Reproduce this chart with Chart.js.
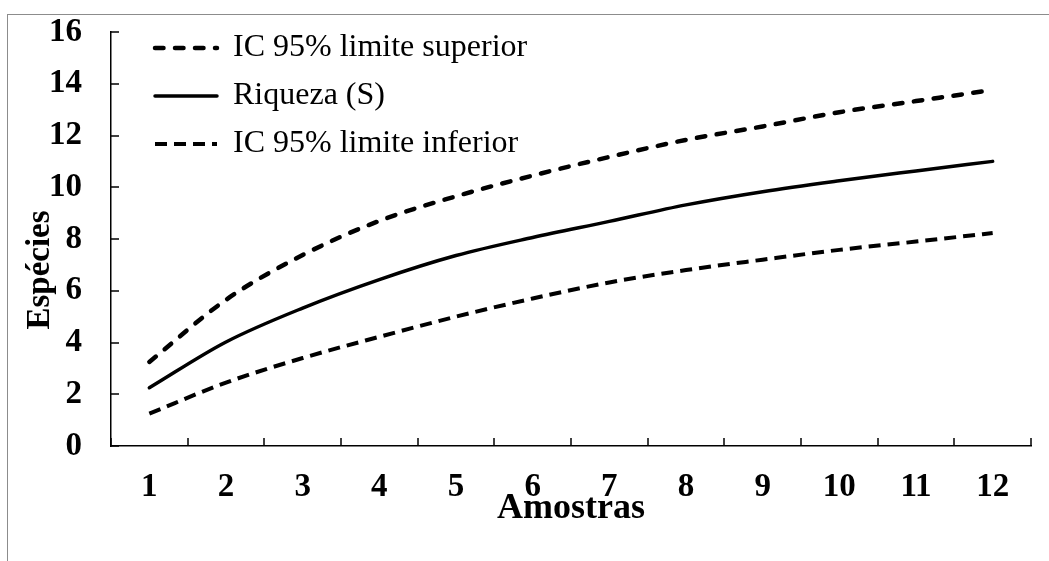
<!DOCTYPE html>
<html>
<head>
<meta charset="utf-8">
<script src="https://cdn.jsdelivr.net/npm/chart.js@4.4.1/dist/chart.umd.min.js"></script>
<style>
  html, body { margin: 0; padding: 0; background: #fff; }
  #wrap { position: relative; width: 1049px; height: 561px; overflow: hidden; }
  #frame { position: absolute; left: 7px; top: 14px; width: 1100px; height: 600px; border: 1px solid #8c8c8c; pointer-events: none; }
  canvas { position: absolute; left: 0; top: 0; }
</style>
</head>
<body>
<div id="wrap">
  <canvas id="c" width="1049" height="561"></canvas>
  <div id="frame"></div>
</div>
<script>
// Curva de acumulação de espécies — Chart.js
Chart.defaults.font.family = "'Liberation Serif','Times New Roman',serif";
Chart.defaults.color = '#000';

const SAMPLES  = ['1', '2', '3', '4', '5', '6', '7', '8', '9', '10', '11', '12'];
const UPPER    = [3.25, 5.65, 7.38, 8.70, 9.65, 10.45, 11.17, 11.83, 12.35, 12.90, 13.33, 13.76];
const RICHNESS = [2.25, 4.02, 5.33, 6.43, 7.36, 8.06, 8.68, 9.32, 9.83, 10.25, 10.63, 11.00];
const LOWER    = [1.25, 2.45, 3.40, 4.22, 5.00, 5.70, 6.32, 6.80, 7.20, 7.58, 7.90, 8.23];
const Y_MIN = 0, Y_MAX = 16, Y_STEP = 2;
const Y_TITLE = 'Espécies';

// marcas de escala voltadas para dentro (como no Excel)
const innerTicks = {
  id: 'innerTicks',
  afterDraw(chart) {
    const { ctx, chartArea: a, scales: { x, y } } = chart;
    ctx.save();
    ctx.strokeStyle = '#000';
    ctx.lineWidth = 1.5;
    ctx.beginPath();
    y.ticks.forEach((t, i) => {
      const py = Math.round(y.getPixelForTick(i));
      ctx.moveTo(a.left, py);
      ctx.lineTo(a.left + 8, py);
    });
    for (let i = 0; i <= x.ticks.length; i++) {
      const px = Math.round(x.getPixelForValue(i - 0.5));
      ctx.moveTo(px, a.bottom);
      ctx.lineTo(px, a.bottom - 8);
    }
    ctx.stroke();
    ctx.restore();
  },
};

// título do eixo Y: no original fica um pouco abaixo do centro
const yTitle = {
  id: 'yTitle',
  afterDraw(chart) {
    const { ctx, chartArea: a } = chart;
    ctx.save();
    ctx.translate(a.left - 71, (a.top + a.bottom) / 2 + 31);
    ctx.rotate(-Math.PI / 2);
    ctx.font = "bold 33px 'Liberation Serif','Times New Roman',serif";
    ctx.fillStyle = '#000';
    ctx.textAlign = 'center';
    ctx.textBaseline = 'middle';
    ctx.fillText(Y_TITLE, 0, 0);
    ctx.restore();
  },
};

// desloca a legenda (dentro da área do gráfico)
const legendShift = {
  id: 'legendShift',
  afterLayout(chart) {
    const a = chart.chartArea;
    chart.legend.left = a.left + 28;
    chart.legend.top = a.top - 16;
  },
};

const line = (label, data, width, dash, cap) => ({
  label, data,
  borderColor: '#000',
  backgroundColor: '#000',
  borderWidth: width,
  borderDash: dash,
  borderCapStyle: cap,
  pointRadius: 0,
  cubicInterpolationMode: 'monotone',
  fill: false,
});

new Chart(document.getElementById('c'), {
  type: 'line',
  data: {
    labels: SAMPLES,
    datasets: [
      line('IC 95% limite superior', UPPER, 4.5, [8.5, 11.5], 'round'),
      line('Riqueza (S)', RICHNESS, 3.5, [], 'round'),
      line('IC 95% limite inferior', LOWER, 4, [12, 7], 'butt'),
    ],
  },
  options: {
    responsive: false,
    animation: false,
    layout: { autoPadding: false, padding: { top: 32, right: 18, bottom: 0, left: 0 } },
    plugins: {
      legend: {
        position: 'chartArea',
        align: 'start',
        labels: {
          usePointStyle: true,
          pointStyle: 'line',
          pointStyleWidth: 62,
          padding: 16,
          color: '#000',
          font: { size: 32 },
          generateLabels: chart => Chart.defaults.plugins.legend.labels.generateLabels(chart).map(item => {
            const ds = chart.data.datasets[item.datasetIndex];
            return { ...item, lineDash: ds.borderDash, lineCap: ds.borderCapStyle, lineWidth: ds.borderWidth, strokeStyle: '#000' };
          }),
        },
      },
      tooltip: { enabled: false },
    },
    scales: {
      x: {
        offset: true,
        grid: { drawOnChartArea: false, drawTicks: false },
        border: { color: '#000', width: 1.5 },
        ticks: { font: { size: 33, weight: 'bold' }, padding: 22, maxRotation: 0 },
        title: { display: true, text: 'Amostras', font: { size: 36, weight: 'bold' }, padding: { top: 0, bottom: 31 } },
        afterFit: s => { s.height = 115; },
      },
      y: {
        min: Y_MIN, max: Y_MAX,
        grid: { drawOnChartArea: false, drawTicks: false },
        border: { color: '#000', width: 1.5 },
        ticks: { stepSize: Y_STEP, font: { size: 33, weight: 'bold' }, padding: 29 },
        afterFit: s => { s.width = 111; s.paddingTop = 0; s.paddingBottom = 0; },
      },
    },
  },
  plugins: [innerTicks, yTitle, legendShift],
});
</script>
</body>
</html>
